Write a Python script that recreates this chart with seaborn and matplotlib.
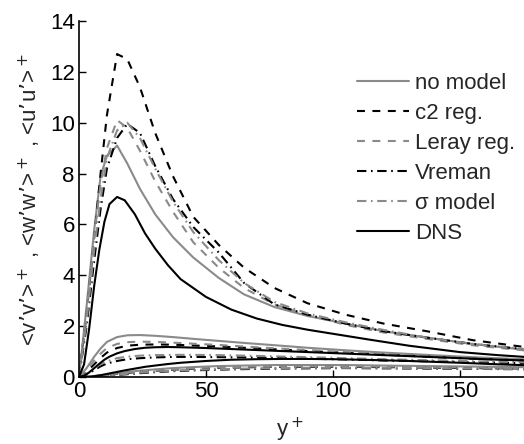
import numpy as np
import pandas as pd
import matplotlib
matplotlib.use("Agg")
import matplotlib.pyplot as plt
import seaborn as sns

# y+ grid of the LES runs and of the DNS
y_les = [0, 3, 6, 8.5, 11, 15, 19, 24, 30, 37, 45, 55, 65, 77, 90, 105, 120, 137, 155, 180]
y_dns = [0, 2, 4, 6, 8, 10, 12, 15, 18, 22, 26, 30, 35, 40, 50, 60, 70, 80, 90,
         100, 115, 130, 150, 165, 180]

# <u'u'>+
uu_nomodel = [0, 2.8, 5.8, 7.9, 8.7, 9.1, 8.4, 7.4, 6.4, 5.5, 4.7, 3.9, 3.25, 2.75, 2.4, 2.1, 1.8, 1.55, 1.3, 1.02]
uu_c2 = [0, 2.5, 5.5, 8.0, 10.3, 12.7, 12.5, 11.4, 9.6, 7.9, 6.3, 5.2, 4.3, 3.5, 2.9, 2.45, 2.1, 1.8, 1.45, 1.12]
uu_leray = [0, 2.6, 5.6, 7.6, 9.0, 10.1, 9.8, 8.9, 7.7, 6.5, 5.3, 4.3, 3.5, 2.85, 2.45, 2.05, 1.75, 1.5, 1.25, 1.0]
uu_vreman = [0, 2.0, 4.6, 6.6, 8.2, 9.4, 9.95, 9.6, 8.3, 7.0, 5.9, 4.9, 3.7, 2.85, 2.45, 2.1, 1.8, 1.55, 1.3, 1.05]
uu_sigma = [0, 2.2, 5.0, 7.0, 8.6, 9.7, 10.0, 9.4, 8.2, 6.9, 5.7, 4.6, 3.7, 2.95, 2.5, 2.15, 1.85, 1.55, 1.3, 1.05]
uu_dns = [0, 0.5, 1.9, 3.6, 5.0, 6.1, 6.8, 7.08, 6.95, 6.4, 5.65, 5.05, 4.4, 3.85, 3.15, 2.65,
          2.3, 2.05, 1.86, 1.7, 1.46, 1.23, 0.98, 0.86, 0.76]

# <w'w'>+
ww_nomodel = [0, 0.35, 0.8, 1.12, 1.38, 1.57, 1.64, 1.65, 1.62, 1.57, 1.5, 1.42, 1.34, 1.25, 1.15, 1.05, 0.96, 0.87, 0.78, 0.68]
ww_c2 = [0, 0.2, 0.5, 0.75, 0.96, 1.14, 1.23, 1.27, 1.28, 1.27, 1.24, 1.2, 1.15, 1.09, 1.02, 0.95, 0.88, 0.8, 0.72, 0.64]
ww_leray = [0, 0.28, 0.65, 0.92, 1.14, 1.3, 1.37, 1.39, 1.38, 1.35, 1.31, 1.26, 1.2, 1.13, 1.06, 0.98, 0.9, 0.82, 0.74, 0.65]
ww_vreman = [0, 0.1, 0.27, 0.42, 0.53, 0.63, 0.7, 0.74, 0.77, 0.79, 0.79, 0.78, 0.77, 0.75, 0.72, 0.69, 0.65, 0.62, 0.58, 0.54]
ww_sigma = [0, 0.13, 0.33, 0.5, 0.62, 0.74, 0.8, 0.84, 0.86, 0.87, 0.87, 0.86, 0.84, 0.81, 0.78, 0.74, 0.7, 0.66, 0.62, 0.57]
ww_dns = [0, 0.05, 0.18, 0.35, 0.52, 0.68, 0.8, 0.93, 1.02, 1.1, 1.15, 1.17, 1.18, 1.17, 1.14,
          1.1, 1.06, 1.02, 0.98, 0.94, 0.88, 0.82, 0.74, 0.68, 0.64]

# <v'v'>+
vv_nomodel = [0, 0.01, 0.04, 0.07, 0.1, 0.15, 0.2, 0.25, 0.3, 0.35, 0.39, 0.43, 0.45, 0.47, 0.47, 0.47, 0.45, 0.43, 0.41, 0.38]
vv_c2 = [0, 0.01, 0.03, 0.05, 0.08, 0.12, 0.16, 0.21, 0.25, 0.29, 0.33, 0.36, 0.38, 0.4, 0.4, 0.4, 0.39, 0.37, 0.35, 0.33]
vv_leray = [0, 0.01, 0.035, 0.06, 0.09, 0.13, 0.18, 0.22, 0.27, 0.31, 0.35, 0.38, 0.4, 0.42, 0.42, 0.42, 0.41, 0.39, 0.37, 0.34]
vv_vreman = [0, 0, 0.02, 0.03, 0.05, 0.08, 0.11, 0.15, 0.19, 0.23, 0.26, 0.29, 0.31, 0.33, 0.34, 0.35, 0.34, 0.33, 0.32, 0.3]
vv_sigma = [0, 0.01, 0.02, 0.04, 0.06, 0.09, 0.13, 0.17, 0.21, 0.25, 0.28, 0.31, 0.33, 0.35, 0.36, 0.36, 0.36, 0.35, 0.33, 0.31]
vv_dns = [0, 0, 0.01, 0.03, 0.06, 0.1, 0.14, 0.2, 0.26, 0.33, 0.4, 0.45, 0.51, 0.56, 0.63,
          0.68, 0.7, 0.71, 0.71, 0.7, 0.67, 0.63, 0.56, 0.5, 0.45]

models = ["no model", "c2 reg.", "Leray reg.", "Vreman", "\u03c3 model", "DNS"]

curves = {
    "no model": (y_les, uu_nomodel, ww_nomodel, vv_nomodel),
    "c2 reg.": (y_les, uu_c2, ww_c2, vv_c2),
    "Leray reg.": (y_les, uu_leray, ww_leray, vv_leray),
    "Vreman": (y_les, uu_vreman, ww_vreman, vv_vreman),
    "\u03c3 model": (y_les, uu_sigma, ww_sigma, vv_sigma),
    "DNS": (y_dns, uu_dns, ww_dns, vv_dns),
}

rows = []
for m in models:
    yp, uu, ww, vv = curves[m]
    for comp, vals in (("uu", uu), ("ww", ww), ("vv", vv)):
        for a, b in zip(yp, vals):
            rows.append({"yplus": a, "val": b, "model": m, "comp": comp})
df = pd.DataFrame(rows)

gray = "#8a8a8a"
palette = {"no model": gray, "c2 reg.": "black", "Leray reg.": gray,
           "Vreman": "black", "\u03c3 model": gray, "DNS": "black"}
dashes = {"no model": "", "c2 reg.": (3.8, 3.6), "Leray reg.": (3.8, 3.6),
          "Vreman": (4.5, 2.2, 0.8, 2.2), "\u03c3 model": (4.5, 2.2, 0.8, 2.2), "DNS": ""}

sns.set_style("ticks")
plt.rcParams["font.family"] = ["Liberation Sans", "DejaVu Sans"]

fig = plt.figure(figsize=(5.24, 4.44), dpi=100)
ax = fig.add_axes([79 / 524, 67 / 444, 457 / 524, 356 / 444])

sns.lineplot(data=df, x="yplus", y="val", hue="model", style="model",
             units="comp", estimator=None, sort=False, palette=palette,
             dashes=dashes, hue_order=models, style_order=models,
             linewidth=1.5, ax=ax)

handles, labels = ax.get_legend_handles_labels()
keep = [(h, l) for h, l in zip(handles, labels) if l in models]
ax.legend([h for h, l in keep], [l for h, l in keep], frameon=False,
          loc="upper left", bbox_to_anchor=(346 / 524, 1 - 62 / 444),
          bbox_transform=fig.transFigure, fontsize=16, borderpad=0,
          handlelength=2.35, handletextpad=0.25, labelspacing=0.4)

ax.set_xlim(0, 180)
ax.set_ylim(0, 14)
ax.set_xticks([0, 50, 100, 150])
ax.set_yticks(range(0, 15, 2))
ax.tick_params(direction="in", length=5, width=1, labelsize=16, pad=3, colors="black")
for s in ["top", "right"]:
    ax.spines[s].set_visible(False)
for s in ["left", "bottom"]:
    ax.spines[s].set_linewidth(1.2)
    ax.spines[s].set_color("black")

ax.set_xlabel("y$^+$", fontsize=16)
ax.xaxis.set_label_coords((290 - 79) / 457, -0.11)
ax.set_ylabel("<v\u2019v\u2019>$^+$ , <w\u2019w\u2019>$^+$ , <u\u2019u\u2019>$^+$", fontsize=16, labelpad=5)

fig.savefig("out.png", dpi=100)
